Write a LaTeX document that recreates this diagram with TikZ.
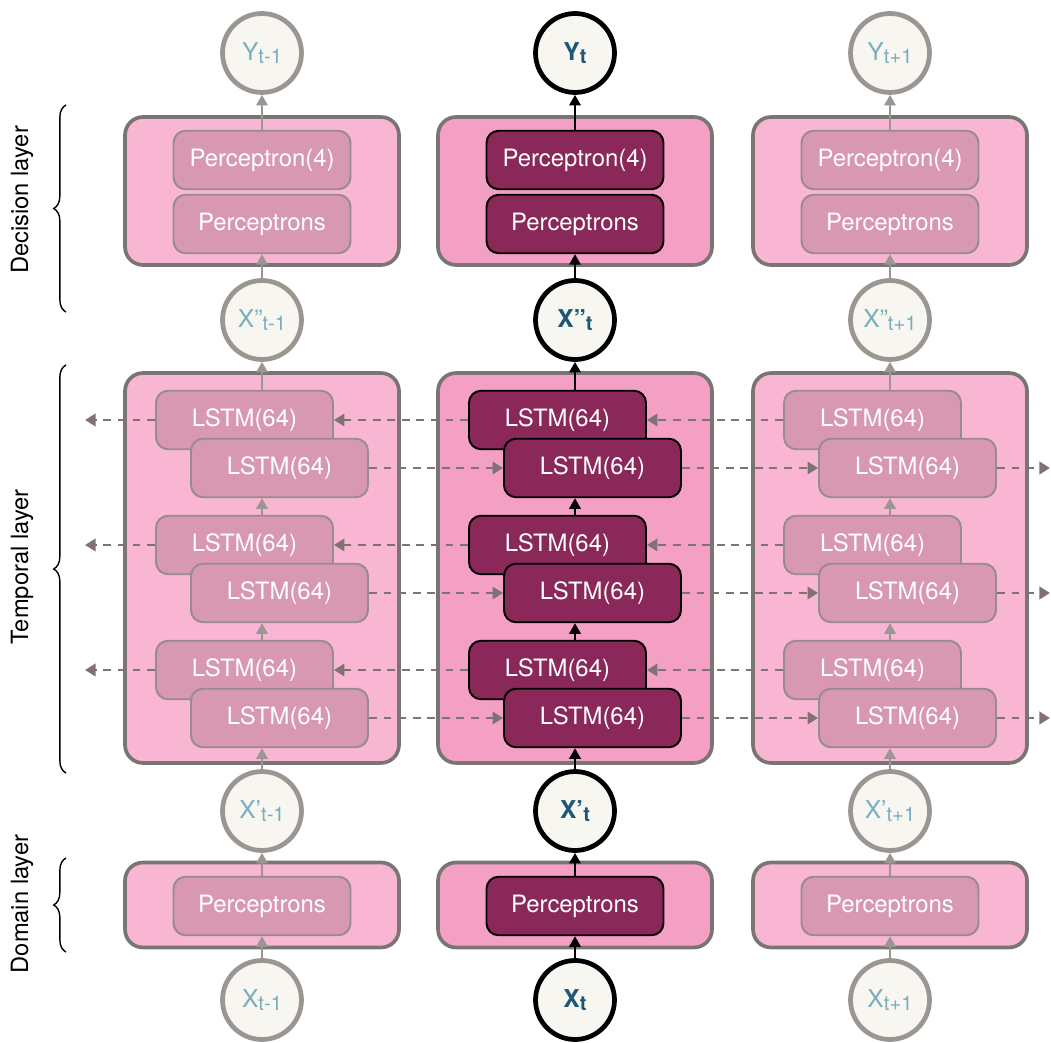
\documentclass[tikz,border=0pt]{standalone}
\usepackage{fontspec}
\setmainfont{TeX Gyre Heros}
\usetikzlibrary{arrows.meta,decorations.pathreplacing}

\definecolor{outerside}{RGB}{249,182,211}
\definecolor{outermid}{RGB}{243,160,196}
\definecolor{cellside}{RGB}{216,152,178}
\definecolor{cellmid}{RGB}{139,40,90}
\definecolor{rimgray}{RGB}{122,116,115}
\definecolor{cellrim}{RGB}{150,140,140}
\definecolor{circfill}{RGB}{247,246,240}
\definecolor{circrim}{RGB}{155,150,145}
\definecolor{txtside}{RGB}{122,174,190}
\definecolor{txtmid}{RGB}{28,88,118}
\definecolor{dashgray}{RGB}{128,114,114}

\newcommand{\lowidx}[1]{\raisebox{-0.2ex}{\fontsize{11.5}{12}\selectfont #1}}

\tikzset{
  side-outer/.style={draw=rimgray,line width=2.1pt,fill=outerside,rounded corners=0.36cm,minimum width=5.48cm},
  mid-outer/.style={side-outer,fill=outermid},
  side-cell/.style={draw=cellrim,line width=1.1pt,fill=cellside,rounded corners=0.24cm,minimum width=3.54cm,minimum height=1.17cm,text=white,font=\fontsize{13.6}{15}\selectfont},
  mid-cell/.style={side-cell,draw=black,fill=cellmid},
  side-circ/.style={circle,draw=circrim,line width=2.7pt,fill=circfill,minimum size=1.58cm,inner sep=0pt,text=txtside,font=\fontsize{14}{16}\selectfont},
  mid-circ/.style={side-circ,draw=black,text=txtmid,font=\fontsize{14}{16}\selectfont\bfseries},
  side-up/.style={-{Triangle[length=6pt,width=6.5pt]},line width=1.2pt,draw=circrim},
  mid-up/.style={side-up,draw=black},
  dasharr/.style={-{Triangle[length=6pt,width=7pt]},dash pattern=on 4.5pt off 3.8pt,line width=1.6pt,draw=dashgray},
  brc/.style={decorate,decoration={brace,amplitude=7pt},line width=0.8pt},
  layerlbl/.style={rotate=90,font=\fontsize{13.5}{15}\selectfont}
}

\begin{document}
\begin{tikzpicture}[x=0.02cm,y=-0.02cm]
\useasboundingbox (0,0) rectangle (1051,1043);
% layer names and braces
\node[layerlbl] (lbldec) at (22,200) {Decision layer};
\node[layerlbl] (lbltmp) at (22,567) {Temporal layer};
\node[layerlbl] (lbldom) at (22,904) {Domain layer};
\draw[brc] (66,312)--(66,105);
\draw[brc] (66,773)--(66,365);
\draw[brc] (66,952)--(66,858);

\foreach \cx/\nm/\lab/\kind in {262/l/t-1/side,575/m/t/mid,890/r/t+1/side}{
  % circles
  \node[\kind-circ] (y\nm) at (\cx,53) {Y\lowidx{\lab}};
  \node[\kind-circ] (xpp\nm) at (\cx,320) {X”\lowidx{\lab}};
  \node[\kind-circ] (xp\nm) at (\cx,811) {X’\lowidx{\lab}};
  \node[\kind-circ] (x\nm) at (\cx,1000) {X\lowidx{\lab}};
  % decision layer
  \node[\kind-outer,minimum height=2.96cm] (dec\nm) at (\cx,191) {};
  \node[\kind-cell] (pa\nm) at (\cx,160) {Perceptron(4)};
  \node[\kind-cell] (pb\nm) at (\cx,224) {Perceptrons};
  \draw[\kind-up] (pa\nm)--(y\nm);
  \draw[\kind-up] (xpp\nm)--(pb\nm);
  % temporal layer
  \node[\kind-outer,minimum height=7.8cm] (tmp\nm) at (\cx,568) {};
  \foreach \j/\yy in {1/420,2/545,3/670}{
    \node[\kind-cell] (bw\nm\j) at (\cx-17.5,\yy) {LSTM(64)};
    \node[\kind-cell] (fw\nm\j) at (\cx+17.5,\yy+48) {LSTM(64)};
  }
  \draw[\kind-up] (bw\nm1.north -| xpp\nm)--(xpp\nm);
  \foreach \j/\i in {1/2,2/3}
    \draw[\kind-up] (bw\nm\i.north -| xpp\nm)--(fw\nm\j.south -| xpp\nm);
  \draw[\kind-up] (xp\nm)--(fw\nm3.south -| xp\nm);
  % domain layer
  \node[\kind-outer,minimum height=1.7cm] (dom\nm) at (\cx,905) {};
  \node[\kind-cell] (dp\nm) at (\cx,906) {Perceptrons};
  \draw[\kind-up] (x\nm)--(dp\nm);
  \draw[\kind-up] (dp\nm)--(xp\nm);
}

% recurrent links
\foreach \j/\yy in {1/420,2/545,3/670}{
  \coordinate (lend\j) at (85,\yy);
  \coordinate (rend\j) at (1050,\yy+48);
  \draw[dasharr] (bwm\j)--(bwl\j);
  \draw[dasharr] (bwr\j)--(bwm\j);
  \draw[dasharr] (bwl\j)--(lend\j);
  \draw[dasharr] (fwl\j)--(fwm\j);
  \draw[dasharr] (fwm\j)--(fwr\j);
  \draw[dasharr] (fwr\j)--(rend\j);
}
\end{tikzpicture}
\end{document}
